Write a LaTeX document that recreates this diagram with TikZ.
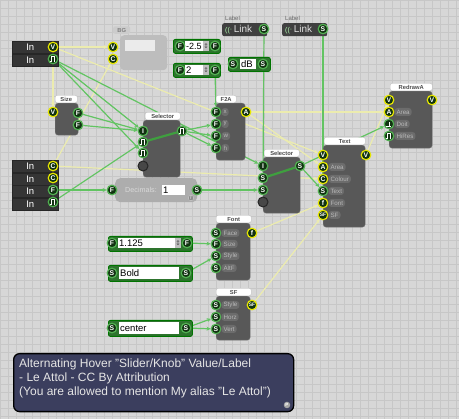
\documentclass[tikz,border=0pt]{standalone}
\usepackage{fontspec}
\setmainfont{Liberation Sans}
\newfontfamily\symfont{DejaVu Sans}
\usepackage{tikz}
\usetikzlibrary{arrows.meta, positioning}

\definecolor{bgGrey}{HTML}{D7D7D7}
\definecolor{gridGrey}{HTML}{C7C7C7}
\definecolor{modGrey}{HTML}{585858}
\definecolor{inBlack}{HTML}{353535}
\definecolor{pinDark}{HTML}{123312}
\definecolor{pinGreen}{HTML}{52B052}
\definecolor{pinYellow}{HTML}{E6E600}
\definecolor{linkGreen}{HTML}{62C462}
\definecolor{selGreen}{HTML}{3F9F3F}
\definecolor{linkYellow}{HTML}{ECECAE}
\definecolor{tagGrey}{HTML}{6C6C6C}
\definecolor{tagText}{HTML}{B9B9B9}
\definecolor{boxGreen}{HTML}{2E742E}
\definecolor{noteBlue}{HTML}{3B3E5E}

\pgfdeclarelayer{grid}
\pgfdeclarelayer{wires}
\pgfsetlayers{grid,wires,main}

\newcommand{\pinfont}{\bfseries\fontsize{6.8}{6.8}\selectfont}
\newcommand{\tabfont}{\bfseries\fontsize{5.8}{5.8}\selectfont}
\newcommand{\tagfont}{\fontsize{6.2}{6.2}\selectfont}
\newcommand{\pulseglyph}{\tikz[x=1pt,y=1pt,baseline=0pt]\draw[white,line width=0.8pt] (0,0)--(1.2,0)--(1.2,4.4)--(3.8,4.4)--(3.8,0)--(5,0);}
\newcommand{\trigglyph}{\tikz[x=1pt,y=1pt,baseline=0pt]\draw[white,line width=0.8pt] (0,0)--(5,0) (2.5,0)--(2.5,4.6);}
\newcommand{\linkicon}{{\color{white!70!green}\fontsize{7}{7}\selectfont((\raisebox{0.5pt}{·}}}

\tikzstyle{pin} = [circle, draw=pinGreen, fill=pinDark, line width=1.2pt, minimum size=9.6pt, inner sep=0pt, text=white, font=\pinfont]
\tikzstyle{vpin} = [pin, draw=pinYellow]
\tikzstyle{dotpin} = [circle, draw=black!85, fill=black!72, line width=1pt, minimum size=10pt, inner sep=0pt]
\tikzstyle{module} = [draw=black!55, fill=modGrey, rounded corners=3pt, anchor=north west, inner sep=0pt]
\tikzstyle{tab} = [fill=white, draw=black!25, rounded corners=2pt, inner sep=0pt, minimum height=7.5pt, text=black!70, font=\tabfont]
\tikzstyle{tag} = [fill=tagGrey, rounded corners=3pt, inner xsep=2pt, inner ysep=1pt, minimum height=8pt, text=tagText, font=\tagfont]
\tikzstyle{inrow} = [fill=inBlack, draw=black!85, line width=0.6pt, anchor=north west, text width=18pt, inner xsep=14pt, inner ysep=0pt, minimum height=12pt, align=left, text=white, font=\fontsize{9.5}{9.5}\selectfont]
\tikzstyle{numbox} = [fill=boxGreen, draw=black!55!green, line width=0.8pt, rounded corners=2pt, anchor=north west, inner sep=0pt]
\tikzstyle{field} = [fill=white, anchor=north west, inner xsep=1pt, inner ysep=0pt, minimum height=10pt, align=left, text=black, font=\fontsize{9.5}{9.5}\selectfont]
\tikzstyle{spin} = [fill=black!25, inner sep=0pt, minimum width=6pt, minimum height=10pt, text=black!70, font=\symfont\fontsize{6.5}{6.5}\selectfont]
\tikzstyle{glink} = [draw=linkGreen, line width=1.2pt, -{Stealth[length=4pt,width=4pt]}]
\tikzstyle{ylink} = [glink, draw=linkYellow]
\tikzstyle{selline} = [draw=selGreen, line width=2.2pt]

\begin{document}
\begin{tikzpicture}[x=1pt, y=-1pt]
  \useasboundingbox (0,0) rectangle (459,419);
  \begin{pgfonlayer}{grid}
    \fill[bgGrey] (0,0) rectangle (459,419);
    \draw[gridGrey, line width=0.6pt] (0,0) grid[step=8pt] (459,419);
  \end{pgfonlayer}

  % inputs top left
  \node[inrow] (inV-r1) at (12,41) {In};
  \node[inrow, below=0pt of inV-r1] (inV-r2) {In};
  \node[vpin] (inV-v) at (53,47) {V};
  \node[pin] (inV-p) at (53,59) {\pulseglyph};

  % BG
  \node[fill=black!26, rounded corners=4pt, anchor=north west, inner sep=0pt, minimum width=47pt, minimum height=35pt] (bg) at (120,35) {};
  \node[tab, fill=black!20, draw=none, text=black!50, minimum width=17pt, above right=1pt and -7pt of bg.north west] (bg-tab) {BG};
  \node[fill=white!92!black, anchor=north west, inner sep=0pt, minimum width=30pt, minimum height=11pt] (bg-field) at (125,40) {};
  \node[vpin] (bg-v) at (113,47) {V};
  \node[vpin] (bg-c) at (113,59) {C};

  % number boxes
  \node[numbox, minimum width=47pt, minimum height=14pt] (num1) at (173,39) {};
  \node[field, text width=17pt, font=\fontsize{9}{9}\selectfont] (num1-val) at (185,41) {\mbox{-2.5}};
  \node[spin] (num1-spin) at (206,46) {↕};
  \node[pin] (num1-in) at (180,46) {F};
  \node[pin] (num1-out) at (215,46) {F};

  \node[numbox, minimum width=47pt, minimum height=14pt] (num2) at (173,63) {};
  \node[field, text width=17pt] (num2-val) at (185,65) {2};
  \node[spin] (num2-spin) at (206,70) {↕};
  \node[pin] (num2-in) at (180,70) {F};
  \node[pin] (num2-out) at (215,70) {F};

  \node[numbox, minimum width=42pt, minimum height=14pt] (db) at (228,57) {};
  \node[field, text width=14pt] (db-val) at (240,59) {dB};
  \node[pin] (db-in) at (233,64) {S};
  \node[pin] (db-out) at (263,64) {S};

  % labels
  \node[fill=black!75, rounded corners=2pt, anchor=north west, minimum width=45pt, minimum height=13pt, inner sep=0pt] (lnk1) at (222,23) {};
  \node[text=black!60, font=\fontsize{6}{6}\selectfont, inner sep=0pt, above right=2pt and 3pt of lnk1.north west] (lnk1-cap) {Label};
  \node[anchor=west, text=white!88!black, font=\fontsize{10}{10}\selectfont, inner sep=0pt] (lnk1-t) at (225,29.5) {\linkicon\,Link};
  \node[pin] (lnk1-s) at (264,29) {S};

  \node[fill=black!75, rounded corners=2pt, anchor=north west, minimum width=45pt, minimum height=13pt, inner sep=0pt] (lnk2) at (282,23) {};
  \node[text=black!60, font=\fontsize{6}{6}\selectfont, inner sep=0pt, above right=2pt and 3pt of lnk2.north west] (lnk2-cap) {Label};
  \node[anchor=west, text=white!88!black, font=\fontsize{10}{10}\selectfont, inner sep=0pt] (lnk2-t) at (285,29.5) {\linkicon\,Link};
  \node[pin] (lnk2-s) at (323,29) {S};

  % Size
  \node[module, minimum width=23pt, minimum height=32pt] (size) at (55,103) {};
  \node[tab, minimum width=22pt, above right=0pt and 0pt of size.north west] (size-tab) {Size};
  \node[vpin] (size-v) at (53,112) {V};
  \node[pin] (size-f1) at (78,113) {F};
  \node[pin] (size-f2) at (78,125) {F};

  % first selector
  \node[module, minimum width=37pt, minimum height=57pt] (sel1) at (143,120) {};
  \node[tab, minimum width=35pt, above right=0pt and 2pt of sel1.north west] (sel1-tab) {Selector};
  \node[pin] (sel1-i) at (143,131) {I};
  \node[pin] (sel1-p1) at (143,142) {\pulseglyph};
  \node[pin] (sel1-p2) at (143,153) {\pulseglyph};
  \node[dotpin] (sel1-dot) at (143,166) {};
  \node[pin] (sel1-out) at (182,131) {\pulseglyph};
  \draw[selline] (sel1-p1) -- (sel1-out);

  % F2A
  \node[module, minimum width=29pt, minimum height=57pt] (f2a) at (216,103) {};
  \node[tab, minimum width=20pt, above right=0pt and 0pt of f2a.north west] (f2a-tab) {F2A};
  \node[pin] (f2a-x) at (216,112) {F};
  \node[pin] (f2a-y) at (216,124) {F};
  \node[pin] (f2a-w) at (216,136) {F};
  \node[pin] (f2a-h) at (216,148) {F};
  \node[tag, right=0pt of f2a-x] (f2a-x-tag) {x};
  \node[tag, right=0pt of f2a-y] (f2a-y-tag) {y};
  \node[tag, right=0pt of f2a-w] (f2a-w-tag) {w};
  \node[tag, right=0pt of f2a-h] (f2a-h-tag) {h};
  \node[vpin] (f2a-a) at (246,112) {A};

  % second selector
  \node[module, minimum width=37pt, minimum height=56pt] (sel2) at (263,157) {};
  \node[tab, minimum width=35pt, above right=0pt and 1pt of sel2.north west] (sel2-tab) {Selector};
  \node[pin] (sel2-i) at (263,166) {I};
  \node[pin] (sel2-s1) at (263,178) {S};
  \node[pin] (sel2-s2) at (263,190) {S};
  \node[dotpin] (sel2-dot) at (263,202) {};
  \node[pin] (sel2-out) at (300,166) {S};
  \draw[selline] (sel2-s1) -- (sel2-out);

  % Text
  \node[module, minimum width=42pt, minimum height=82pt] (text) at (323,145) {};
  \node[tab, minimum width=41pt, above right=0pt and 1pt of text.north west] (text-tab) {Text};
  \node[vpin] (text-v) at (323,155) {V};
  \node[vpin] (text-a) at (323,167) {A};
  \node[vpin] (text-c) at (323,179) {C};
  \node[pin] (text-s) at (323,191) {S};
  \node[vpin] (text-f) at (323,203) {f};
  \node[vpin] (text-sf) at (323,215) {\fontsize{5}{5}\selectfont SF};
  \node[vpin] (text-out) at (366,155) {V};
  \node[tag, right=0pt of text-a] (text-a-tag) {Area};
  \node[tag, right=0pt of text-c] (text-c-tag) {Colour};
  \node[tag, right=0pt of text-s] (text-s-tag) {Text};
  \node[tag, right=0pt of text-f] (text-f-tag) {Font};
  \node[tag, right=0pt of text-sf] (text-sf-tag) {SF};

  % RedrawA
  \node[module, minimum width=43pt, minimum height=57pt] (rd) at (389,91) {};
  \node[tab, minimum width=42pt, above right=0pt and 1pt of rd.north west] (rd-tab) {RedrawA};
  \node[vpin] (rd-v) at (389,100) {V};
  \node[vpin] (rd-out) at (432,100) {V};
  \node[vpin] (rd-a) at (389,112) {A};
  \node[pin] (rd-t) at (389,124) {\trigglyph};
  \node[pin] (rd-p) at (389,136) {\pulseglyph};
  \node[tag, right=0pt of rd-a] (rd-a-tag) {Area};
  \node[tag, right=0pt of rd-t] (rd-t-tag) {Doit};
  \node[tag, right=0pt of rd-p] (rd-p-tag) {HiRes};

  % inputs lower left
  \node[inrow] (in2-r1) at (12,160) {In};
  \node[inrow, below=0pt of in2-r1] (in2-r2) {In};
  \node[inrow, below=0pt of in2-r2] (in2-r3) {In};
  \node[inrow, below=0pt of in2-r3] (in2-r4) {In};
  \node[vpin] (in2-c1) at (53,166) {C};
  \node[vpin] (in2-c2) at (53,178) {C};
  \node[pin] (in2-f) at (53,190) {F};
  \node[pin] (in2-p) at (53,202) {\pulseglyph};

  % Decimals
  \node[fill=black!32, rounded corners=5pt, anchor=north west, inner sep=0pt, minimum width=82pt, minimum height=24pt] (dec) at (115,178) {};
  \node[anchor=west, inner sep=0pt, text=white!85!black, font=\fontsize{7.2}{7.2}\selectfont] (dec-lbl) at (125,190) {Decimals:};
  \node[field, text width=21pt] (dec-val) at (162,185) {1};
  \node[pin] (dec-in) at (112,190) {F};
  \node[pin] (dec-out) at (197,190) {S};
  \node[circle, fill=black!45, draw=black!20, line width=0.4pt, inner sep=0pt, minimum size=5.5pt, text=white, font=\fontsize{4}{4}\selectfont] (dec-ico) at (191,198) {f};

  % Font
  \node[module, minimum width=34pt, minimum height=57pt] (font) at (216,223) {};
  \node[tab, minimum width=35pt, above right=0pt and 0pt of font.north west] (font-tab) {Font};
  \node[pin] (font-face) at (216,233) {S};
  \node[pin] (font-size) at (216,244) {F};
  \node[pin] (font-style) at (216,256) {S};
  \node[pin] (font-alt) at (216,268) {S};
  \node[tag, right=0pt of font-face] (font-face-tag) {Face};
  \node[tag, right=0pt of font-size] (font-size-tag) {Size};
  \node[tag, right=0pt of font-style] (font-style-tag) {Style};
  \node[tag, right=0pt of font-alt] (font-alt-tag) {AltF};
  \node[vpin] (font-out) at (252,233) {f};

  % SF
  \node[module, minimum width=34pt, minimum height=44pt] (sf) at (216,296) {};
  \node[tab, minimum width=35pt, above right=0pt and 0pt of sf.north west] (sf-tab) {SF};
  \node[pin] (sf-style) at (216,305) {S};
  \node[pin] (sf-horz) at (216,317) {S};
  \node[pin] (sf-vert) at (216,329) {S};
  \node[tag, right=0pt of sf-style] (sf-style-tag) {Style};
  \node[tag, right=0pt of sf-horz] (sf-horz-tag) {Horz};
  \node[tag, right=0pt of sf-vert] (sf-vert-tag) {Vert};
  \node[vpin] (sf-out) at (252,305) {\fontsize{5}{5}\selectfont SF};

  % value boxes
  \node[numbox, minimum width=84pt, minimum height=15pt] (val) at (108,236) {};
  \node[field, text width=55pt] (val-txt) at (118,238) {1.125};
  \node[spin] (val-spin) at (178,243) {↕};
  \node[pin] (val-in) at (112,243) {F};
  \node[pin] (val-out) at (187,243) {F};

  \node[numbox, minimum width=84pt, minimum height=16pt] (bold) at (108,265) {};
  \node[field, text width=58pt, minimum height=12pt] (bold-txt) at (119,267) {Bold};
  \node[pin] (bold-in) at (112,273) {S};
  \node[pin] (bold-out) at (186,273) {S};

  \node[numbox, minimum width=84pt, minimum height=16pt] (ctr) at (108,320) {};
  \node[field, text width=58pt, minimum height=12pt] (ctr-txt) at (119,322) {center};
  \node[pin] (ctr-in) at (112,328) {S};
  \node[pin] (ctr-out) at (186,328) {S};

  % comment
  \node[fill=noteBlue, draw=black, line width=1.3pt, rounded corners=6pt, anchor=north west, inner sep=0pt, minimum width=280pt, minimum height=58pt] (note) at (13,353) {};
  \node[anchor=north west, align=left, inner sep=0pt, text=white!90!black, font=\fontsize{12}{13.7}\selectfont] (note-txt) at (19,359) {Alternating Hover "Slider/Knob" Value/Label\\- Le Attol - CC By Attribution\\(You are allowed to mention My alias "Le Attol")};
  \node[circle, fill=black!35, inner sep=0pt, minimum size=6.5pt, text=white, font=\bfseries\fontsize{4.5}{4.5}\selectfont] (note-p) at (287,405) {P};

  % links
  \begin{pgfonlayer}{wires}
    \draw[ylink] (inV-v) -- (bg-v);
    \draw[ylink] (inV-v) -- (size-v);
    \draw[ylink] (inV-v) -- (text-v);
    \draw[ylink] (in2-c1) -- (bg-c);
    \draw[ylink] (in2-c1) -- (text-c);
    \draw[ylink] (f2a-a) -- (rd-a);
    \draw[ylink] (f2a-a) -- (text-a);
    \draw[ylink] (text-out) -- (rd-v);
    \draw[ylink] (font-out) -- (text-f);
    \draw[ylink] (sf-out) -- (text-sf);

    \draw[glink] (inV-p) -- (sel1-i);
    \draw[glink] (inV-p) -- (sel1-p2);
    \draw[glink] (inV-p) -- (sel2-i);
    \draw[glink] (size-f1) -- (sel1-i);
    \draw[glink] (size-f2) -- (sel1-i);
    \draw[glink] (in2-p) -- (sel1-p1);
    \draw[glink] (in2-f) -- (dec-in);
    \draw[glink] (sel1-out) -- (f2a-y);
    \draw[glink] (sel1-out) -- (f2a-w);
    \draw[glink] (sel1-out) -- (f2a-h);
    \draw[glink] (num2-out) -- (f2a-x);
    \draw[glink] (lnk1-s) -- (sel2-s1);
    \draw[glink] (lnk2-s) -- (text-s);
    \draw[glink] (dec-out) -- (sel2-s2);
    \draw[glink] (sel2-out) -- (text-s);
    \draw[glink] (sel2-out) -- (rd-t);
    \draw[glink] (val-out) -- (font-size);
    \draw[glink] (bold-out) -- (font-style);
    \draw[glink] (ctr-out) -- (sf-horz);
    \draw[glink] (ctr-out) -- (sf-vert);
  \end{pgfonlayer}
\end{tikzpicture}
\end{document}
